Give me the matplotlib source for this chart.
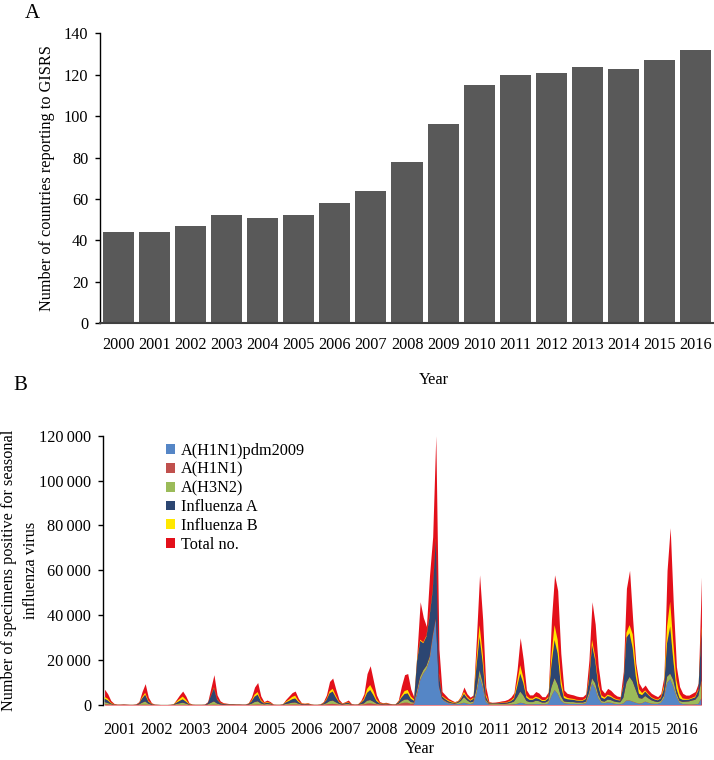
import matplotlib
matplotlib.use("Agg")
import matplotlib.pyplot as plt
from matplotlib.patches import Patch
import numpy as np

plt.rcParams['font.family'] = ['Liberation Serif', 'DejaVu Serif']
FS = 11.7

# ---------------- Panel A data ----------------
years_a = [2000, 2001, 2002, 2003, 2004, 2005, 2006, 2007, 2008,
           2009, 2010, 2011, 2012, 2013, 2014, 2015, 2016]
countries = [44, 44, 47, 52, 51, 52, 58, 64, 78, 96, 115, 120, 121, 124, 123, 127, 132]

# ---------------- Panel B data (monthly, Jan 2001 - Dec 2016) ----------------
total_no = [
    7000, 5000, 2000, 700, 400, 400, 500, 400, 300, 300, 500, 1500,          # 2001
    6000, 9500, 3500, 1000, 400, 300, 200, 200, 200, 300, 600, 2500,         # 2002
    4500, 6200, 4000, 1000, 400, 300, 300, 300, 400, 1500, 7500, 13500,      # 2003
    4500, 1800, 1000, 800, 600, 600, 500, 500, 400, 400, 1000, 3500,         # 2004
    8000, 10000, 4000, 1500, 2200, 1500, 400, 300, 300, 600, 2500, 4000,     # 2005
    5500, 6200, 3000, 1000, 800, 1000, 500, 300, 300, 500, 1500, 4500,       # 2006
    10500, 12000, 7000, 2500, 900, 1500, 2200, 600, 400, 500, 2000, 5000,    # 2007
    14000, 17500, 11000, 4500, 1500, 1000, 1200, 800, 500, 500, 2200, 8500,  # 2008
    13500, 14000, 7000, 3500, 24000, 46000, 39000, 35000, 58000, 75000, 120000, 25000,  # 2009
    6000, 4500, 3000, 2200, 1500, 2000, 4000, 8000, 5000, 3500, 4500, 30000,  # 2010
    58000, 38000, 8000, 1500, 1200, 1300, 1500, 1800, 2000, 2500, 3500, 5500,  # 2011
    15600, 30000, 20000, 6700, 4500, 4500, 6000, 5300, 3700, 3700, 5900, 38000,  # 2012
    58000, 51000, 23000, 6700, 5200, 4800, 4500, 4000, 3700, 3700, 5000, 20000,  # 2013
    46000, 36000, 17000, 7000, 5300, 7400, 6500, 5000, 4000, 3700, 15000, 52000,  # 2014
    60000, 38000, 18700, 9800, 7400, 8900, 6700, 5200, 4400, 3700, 5200, 12600,  # 2015
    60000, 79000, 45000, 17000, 8200, 5200, 4400, 4400, 5200, 6000, 9800, 57000,  # 2016
]

h1n1pdm = [0] * 99 + [
    300, 5000, 11000, 14000, 16000, 20000, 30000, 38000, 8000,               # 2009 Apr-Dec
    2500, 1500, 800, 500, 300, 400, 600, 1000, 600, 400, 800, 5000,          # 2010
    12600, 8000, 1500, 200, 100, 100, 100, 100, 100, 100, 200, 300,          # 2011
    500, 1000, 800, 300, 300, 300, 400, 400, 300, 300, 600, 4000,            # 2012
    6700, 5000, 2000, 800, 600, 500, 500, 400, 400, 500, 800, 4000,          # 2013
    9700, 7400, 3000, 1000, 800, 1200, 1000, 600, 400, 300, 700, 2000,       # 2014
    2000, 1500, 1000, 600, 800, 1500, 1000, 600, 500, 500, 1000, 3000,       # 2015
    9800, 11500, 8200, 3700, 1000, 400, 300, 200, 200, 300, 500, 3000,       # 2016
]

h1n1 = [
    300, 200, 100, 0, 0, 0, 0, 0, 0, 0, 0, 50,
    100, 100, 50, 0, 0, 0, 0, 0, 0, 0, 0, 50,
    50, 50, 50, 0, 0, 0, 0, 0, 0, 0, 50, 100,
    50, 0, 0, 0, 0, 0, 0, 0, 0, 0, 0, 50,
    100, 150, 100, 50, 50, 50, 0, 0, 0, 0, 50, 100,
    150, 150, 100, 50, 50, 50, 0, 0, 0, 0, 50, 200,
    400, 500, 300, 100, 50, 100, 100, 50, 0, 0, 100, 200,
    600, 700, 500, 200, 100, 100, 150, 100, 50, 50, 200, 700,
    1000, 1000, 500, 300, 200, 100, 50, 0, 0, 0, 0, 0,
] + [0] * 84

h3n2 = [
    1000, 700, 300, 100, 50, 50, 80, 60, 50, 50, 80, 200,
    900, 1500, 500, 150, 60, 50, 30, 30, 30, 50, 100, 400,
    700, 1000, 600, 150, 60, 50, 50, 50, 60, 250, 900, 1500,
    600, 250, 150, 120, 100, 100, 80, 80, 60, 60, 150, 500,
    1200, 1500, 600, 250, 400, 300, 60, 50, 50, 100, 400, 600,
    900, 1000, 500, 150, 150, 200, 80, 50, 50, 80, 250, 600,
    1300, 1500, 900, 400, 150, 300, 400, 100, 60, 80, 300, 500,
    1300, 1500, 1000, 400, 200, 150, 200, 120, 80, 80, 300, 900,
    1400, 1500, 800, 500, 1500, 1500, 1500, 1500, 1500, 1000, 500, 500,
    300, 300, 300, 300, 300, 500, 1200, 2500, 1500, 800, 700, 2000,
    3000, 2000, 800, 300, 400, 400, 400, 400, 400, 600, 800, 1200,
    3000, 5000, 3500, 1500, 1000, 1000, 1500, 1300, 800, 800, 1200, 4000,
    5300, 4000, 2000, 800, 800, 800, 800, 700, 700, 600, 700, 1500,
    2200, 2300, 1500, 800, 700, 1200, 1200, 1000, 900, 900, 2500, 8000,
    10500, 9000, 5700, 2500, 2000, 2500, 2000, 1500, 1100, 800, 800, 1200,
    2800, 2500, 2900, 1500, 800, 1000, 1200, 1400, 1800, 2000, 3500, 8000,
]

infl_a = [
    1500, 1200, 400, 150, 80, 80, 100, 80, 60, 60, 100, 400,
    1900, 3000, 1000, 300, 100, 80, 50, 50, 50, 80, 150, 600,
    1100, 1500, 900, 250, 100, 80, 80, 80, 100, 500, 3000, 5900,
    1800, 600, 300, 250, 200, 200, 150, 150, 120, 120, 300, 1000,
    2400, 3000, 1100, 400, 500, 400, 100, 80, 80, 150, 700, 1100,
    1500, 1800, 800, 250, 200, 250, 120, 80, 80, 120, 400, 1400,
    3500, 4000, 2200, 700, 250, 400, 500, 150, 100, 120, 500, 1500,
    3500, 4500, 3000, 1200, 400, 250, 300, 200, 120, 120, 600, 1700,
    2500, 2700, 1500, 800, 13000, 16000, 12000, 13000, 18000, 20000, 35000, 5000,
    1000, 800, 600, 400, 300, 400, 800, 1500, 1000, 700, 1200, 10000,
    14800, 9000, 1500, 300, 300, 300, 300, 400, 450, 500, 700, 1200,
    4500, 8000, 5500, 1500, 1000, 1000, 1200, 1000, 700, 700, 1200, 10000,
    17000, 14000, 5000, 1500, 1200, 1100, 1000, 900, 800, 800, 1200, 5000,
    14800, 10300, 4000, 1500, 1200, 1600, 1400, 1100, 900, 800, 5000, 20000,
    19500, 15000, 6000, 2000, 1600, 2000, 1500, 1100, 900, 800, 1200, 3000,
    15000, 21000, 8900, 2200, 1200, 900, 800, 800, 900, 1100, 2500, 22000,
]

infl_b = [
    800, 700, 300, 100, 50, 40, 40, 30, 30, 30, 50, 100,
    500, 800, 400, 150, 50, 30, 20, 20, 20, 30, 80, 400,
    800, 1200, 800, 200, 60, 40, 40, 40, 40, 60, 150, 300,
    200, 150, 100, 80, 60, 60, 50, 50, 40, 40, 100, 300,
    900, 1100, 500, 200, 300, 200, 50, 40, 40, 60, 300, 600,
    1000, 1200, 500, 150, 100, 150, 60, 40, 40, 60, 150, 300,
    900, 1200, 800, 300, 100, 150, 200, 60, 40, 60, 200, 500,
    1700, 2200, 1800, 800, 200, 120, 150, 80, 60, 60, 200, 700,
    1300, 1500, 1000, 600, 1000, 500, 400, 400, 500, 500, 500, 500,
    300, 400, 400, 300, 200, 200, 400, 800, 500, 400, 500, 3000,
    5200, 4000, 1000, 200, 100, 100, 100, 150, 150, 200, 300, 500,
    2000, 3700, 2500, 800, 600, 500, 600, 500, 400, 400, 600, 4000,
    6600, 6000, 3500, 1000, 600, 500, 400, 300, 300, 300, 400, 1000,
    2300, 1500, 1500, 900, 600, 600, 500, 400, 300, 300, 700, 2200,
    3600, 6000, 4400, 2000, 900, 500, 400, 300, 300, 300, 400, 1200,
    7400, 11000, 7600, 3700, 2000, 600, 400, 300, 300, 400, 500, 2000,
]

years_b = list(range(2001, 2017))
series_labels = ['A(H1N1)pdm2009', 'A(H1N1)', 'A(H3N2)', 'Influenza A', 'Influenza B', 'Total no.']
series_colors = ['#5586C6', '#C0504D', '#9BBB59', '#2C4672', '#FFE800', '#E3101A']

# ---------------- Figure ----------------
fig = plt.figure(figsize=(7.14, 7.6), dpi=100)

# Panel A
axA = fig.add_axes([100/714, 0.575, 614/714, 0.381])
axA.bar(np.arange(len(years_a)), countries, width=0.86, color='#595959')
axA.set_xlim(-0.5, len(years_a) - 0.5)
axA.set_ylim(0, 140)
axA.set_yticks(range(0, 141, 20))
axA.set_xticks(np.arange(len(years_a)))
axA.set_xticklabels([str(y) for y in years_a])
axA.tick_params(axis='x', length=0, pad=10, labelsize=FS)
axA.tick_params(axis='y', length=3.5, width=1, pad=5, labelsize=FS, direction='out')
for s in ['top', 'right']:
    axA.spines[s].set_visible(False)
axA.spines['left'].set_linewidth(1)
axA.spines['bottom'].set_linewidth(1.5)
axA.spines['bottom'].set_color('#404040')
axA.set_ylabel('Number of countries reporting to GISRS', fontsize=FS, labelpad=6)
fig.text(434/714, 1 - 380/760, 'Year', ha='center', va='center', fontsize=FS)
fig.text(32/714, 1 - 13/760, 'A', ha='center', va='center', fontsize=15)

# Panel B
axB = fig.add_axes([103/714, 0.0724, 600/714, 0.3543])
t = np.array([2001 + (i + 0.5) / 12 for i in range(len(total_no))])
axB.fill_between(t, 0, total_no, color=series_colors[5], linewidth=0)
axB.stackplot(t, h1n1pdm, h1n1, h3n2, infl_a, infl_b,
              colors=series_colors[:5], linewidth=0)
axB.set_xlim(2001, 2017)
axB.set_ylim(0, 120000)
yt = list(range(0, 120001, 20000))
axB.set_yticks(yt)
axB.set_yticklabels([f"{v:,}".replace(',', '\u2009') for v in yt])
axB.set_xticks([y + 0.43 for y in years_b])
axB.set_xticklabels([str(y) for y in years_b])
axB.tick_params(axis='x', length=0, pad=12, labelsize=FS)
axB.tick_params(axis='y', length=3.5, width=1, pad=5, labelsize=FS, direction='out')
for s in ['top', 'right', 'bottom']:
    axB.spines[s].set_visible(False)
axB.spines['left'].set_linewidth(1)
fig.text(420/714, 1 - 749/760, 'Year', ha='center', va='center', fontsize=FS)
fig.text(20/714, 1 - 386/760, 'B', ha='center', va='center', fontsize=15)
fig.text(20/714, 1 - 570/760,
         'Number of specimens positive for seasonal\ninfluenza virus',
         rotation=90, ha='center', va='center', multialignment='center',
         fontsize=FS, linespacing=1.5)

handles = [Patch(facecolor=c, edgecolor='none') for c in series_colors]
axB.legend(handles, series_labels, loc='upper left',
           bbox_to_anchor=(166/714, 1 - 443/760), bbox_transform=fig.transFigure,
           frameon=False, fontsize=FS, handlelength=0.55, handleheight=0.55,
           handletextpad=0.35, labelspacing=0.17, borderpad=0, borderaxespad=0)

fig.savefig('out.png', dpi=100)
